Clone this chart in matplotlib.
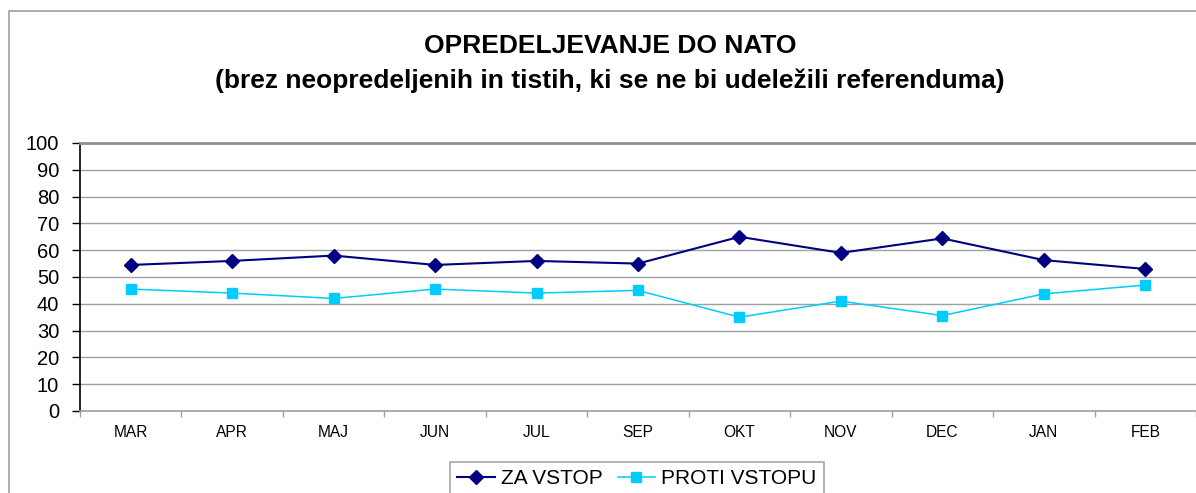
import matplotlib.pyplot as plt
from matplotlib.patches import Rectangle
from matplotlib.ticker import FixedLocator, NullFormatter
import numpy as np

plt.rcParams['font.family'] = ['Liberation Sans', 'DejaVu Sans']

# DATA
months = ['MAR', 'APR', 'MAJ', 'JUN', 'JUL', 'SEP', 'OKT', 'NOV', 'DEC', 'JAN', 'FEB']
za_vstop = [54.5, 56.0, 58.0, 54.5, 56.0, 55.0, 65.0, 59.0, 64.4, 56.3, 53.0]
proti_vstopu = [45.5, 44.0, 42.0, 45.5, 44.0, 45.0, 35.0, 41.0, 35.6, 43.7, 47.0]

W, H = 1196, 493

def main():
    fig = plt.figure(figsize=(W / 100, H / 100), dpi=100)

    # outer chart border (cut off at right and bottom)
    fig.patches.append(Rectangle((9 / W, -0.1), 1.2, (H - 11) / H + 0.1,
                                 transform=fig.transFigure, fill=False,
                                 edgecolor='#a0a0a0', linewidth=1.2))

    ax = fig.add_axes([80 / W, (H - 411) / H, (W - 80) / W, (411 - 143) / H])
    x = np.arange(len(months))

    ax.plot(x, za_vstop, color='#000080', linewidth=1.5, marker='D',
            markersize=7, label='ZA VSTOP', zorder=3)
    ax.plot(x, proti_vstopu, color='#00ccff', linewidth=1.1, marker='s',
            markersize=7, label='PROTI VSTOPU', zorder=3)

    ax.set_xlim(-0.5, len(months) - 0.5)
    ax.set_ylim(0, 100)
    ax.set_yticks(np.arange(0, 101, 10))
    ax.yaxis.grid(True, color='#a0a0a0', linewidth=1.0)
    ax.set_axisbelow(True)

    ax.xaxis.set_major_locator(FixedLocator(np.arange(-0.5, len(months), 1.0)))
    ax.xaxis.set_major_formatter(NullFormatter())
    ax.xaxis.set_minor_locator(FixedLocator(x))
    ax.set_xticklabels(months, minor=True)
    ax.tick_params(axis='x', which='major', length=4, color='#a0a0a0', width=1)
    ax.tick_params(axis='x', which='minor', length=0, pad=10, labelsize=11.2)
    ax.tick_params(axis='y', length=6, width=1, pad=9, labelsize=14.5)

    ax.spines['left'].set_color('black')
    ax.spines['left'].set_linewidth(1.2)
    ax.spines['bottom'].set_color('#a0a0a0')
    ax.spines['bottom'].set_linewidth(1.2)
    ax.spines['top'].set_color('#909090')
    ax.spines['top'].set_linewidth(2)
    ax.spines['right'].set_visible(False)

    fig.text(610 / W, 1 - 53 / H, 'OPREDELJEVANJE DO NATO', ha='center',
             va='baseline', fontsize=19, fontweight='bold')
    fig.text(610 / W, 1 - 88 / H,
             '(brez neopredeljenih in tistih, ki se ne bi udeležili referenduma)',
             ha='center', va='baseline', fontsize=19, fontweight='bold')

    leg = fig.legend(loc='upper center', bbox_to_anchor=(637 / W, 1 - 462 / H),
                     ncol=2, fontsize=15, frameon=True, fancybox=False,
                     edgecolor='#909090', handlelength=1.8, handletextpad=0.3,
                     columnspacing=0.7, borderpad=0.35, borderaxespad=0)
    leg.get_frame().set_linewidth(1.2)

    fig.savefig('out.png', dpi=100)

if __name__ == "__main__":
    main()
